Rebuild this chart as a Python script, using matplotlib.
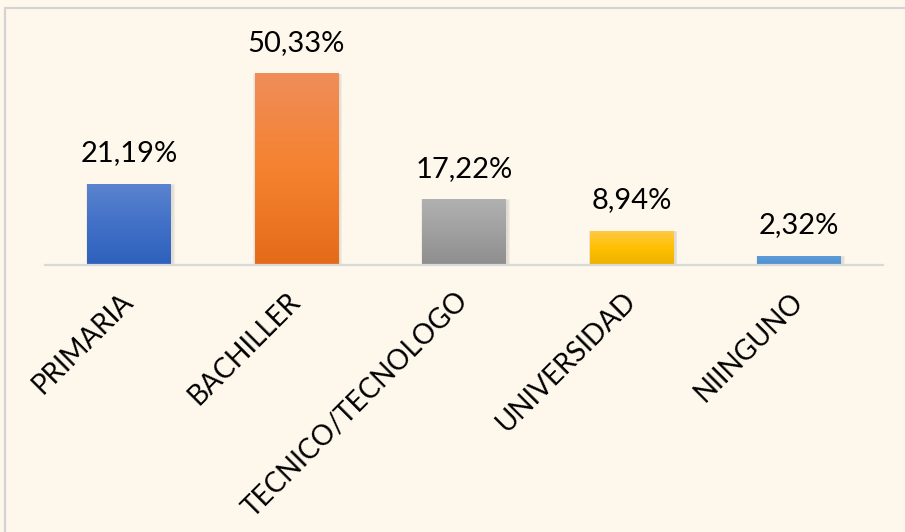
import matplotlib
matplotlib.use("Agg")
import matplotlib.pyplot as plt
import numpy as np
from matplotlib.colors import LinearSegmentedColormap
from matplotlib.patches import Rectangle

categories = ["PRIMARIA", "BACHILLER", "TECNICO/TECNOLOGO", "UNIVERSIDAD", "NIINGUNO"]
values = [21.19, 50.33, 17.22, 8.94, 2.32]
value_labels = ["21,19%", "50,33%", "17,22%", "8,94%", "2,32%"]
gradients = [
    ["#5B84CF", "#4170C7", "#2E61BC"],
    ["#EF8D59", "#F58230", "#E46B18"],
    ["#B1B1B1", "#A0A0A0", "#8E8E8E"],
    ["#FFC945", "#FFC000", "#EDB000"],
    ["#5E9DD7", "#5696D4", "#4E8ECF"],
]

plt.rcParams['font.family'] = ['Lato', 'DejaVu Sans']

W, H = 905, 532
fig = plt.figure(figsize=(W / 100, H / 100), dpi=100)
bg = "#FEF8EC"
fig.patch.set_facecolor(bg)

# outer border (only top and left visible)
fig.patches.append(Rectangle((5 / W, -0.1), 1.2, (H - 8) / H + 0.1,
                             transform=fig.transFigure, fill=False,
                             edgecolor="#D3D3D3", linewidth=1.6, zorder=0))

ax = fig.add_axes([45 / W, (H - 265) / H, (883 - 45) / W, (265 - 37) / H])
ax.set_facecolor(bg)
ax.patch.set_alpha(0)
ax.set_xlim(-0.5, len(categories) - 0.5)
ax.set_ylim(0, 60)

x = np.arange(len(categories))
bars = ax.bar(x, values, width=0.5, color="none", edgecolor="none", zorder=3)

for b, cols in zip(bars, gradients):
    x0, w, h = b.get_x(), b.get_width(), b.get_height()
    # soft shadow
    for k, a in zip([0.06, 0.04, 0.02], [0.10, 0.08, 0.06]):
        ax.add_patch(Rectangle((x0 - k * 0.25 + 0.008, -0.2), w + k * 0.5,
                               h + k * 6 + 0.2 - 0.3, facecolor="#808080",
                               edgecolor="none", alpha=a, zorder=2))
    cmap = LinearSegmentedColormap.from_list("g", cols[::-1])
    grad = np.linspace(0, 1, 256).reshape(-1, 1)
    ax.imshow(grad, cmap=cmap, aspect="auto", origin="lower",
              extent=(x0, x0 + w, 0, h), zorder=4, interpolation="bicubic")

ax.set_xlim(-0.5, len(categories) - 0.5)
ax.set_ylim(0, 60)

for xi, v, lab in zip(x, values, value_labels):
    ax.annotate(lab, (xi, v), xytext=(0, 18), textcoords="offset pixels",
                ha="center", va="bottom", fontsize=21, color="#000000", zorder=5)

for s in ["top", "right", "left"]:
    ax.spines[s].set_visible(False)
ax.spines["bottom"].set_color("#D9D9D9")
ax.spines["bottom"].set_linewidth(1.6)
ax.spines["bottom"].set_zorder(6)
ax.set_yticks([])
ax.set_xticks(x)
ax.set_xticklabels(categories, rotation=45, ha="right", va="center",
                   rotation_mode="anchor", fontsize=20, color="#000000")
ax.tick_params(axis="x", length=0, pad=23)

fig.savefig("out.png", dpi=100, facecolor=bg)
